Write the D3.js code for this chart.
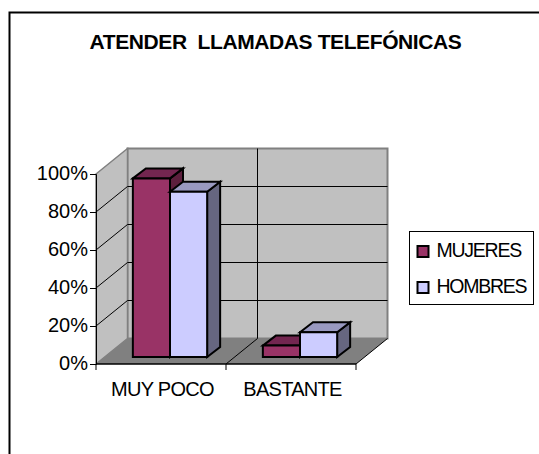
<!DOCTYPE html>
<html>
<head>
<meta charset="utf-8">
<script src="https://cdn.jsdelivr.net/npm/d3@7"></script>
<style>
body { margin: 0; background: #fff; overflow: hidden; }
text { font-family: "Liberation Sans", Arial, sans-serif; fill: #000; }
</style>
</head>
<body>
<div id="chart"></div>
<script>
var categories = ["MUY POCO", "BASTANTE"];
var seriesNames = ["MUJERES", "HOMBRES"];
var mujeres = [94, 6];
var hombres = [87, 13];
var yTicks = [0, 20, 40, 60, 80, 100];

var colors = ["#993366", "#CCCCFF"];
var topColors = ["#732650", "#9999C0"];
var sideColors = ["#5C1F3D", "#666680"];

var width = 539, height = 454;
var front = {left: 96, right: 356, top: 174, bottom: 364};
var wallDx = 31.5, wallDy = -25.5; //offset of back wall from front plane
var barDepthDx = 13, barDepthDy = -10;
var barInsetDx = 9, barInsetDy = -7;

var svg = d3.select("#chart").append("svg")
	.attr("width", width)
	.attr("height", height)
	.style("display", "block");

//chart frame, runs off the right and bottom of the picture
svg.append("rect")
	.attr("x", 9.5).attr("y", 12.5)
	.attr("width", 560).attr("height", 480)
	.attr("fill", "#fff").attr("stroke", "#000").attr("stroke-width", 2);

var x = d3.scaleBand()
	.domain(categories)
	.range([front.left, front.right]);

var y = d3.scaleLinear()
	.domain([0, 100])
	.range([front.bottom, front.top]);

var inner = d3.scaleBand()
	.domain(seriesNames)
	.range([0, x.bandwidth()])
	.paddingOuter(0.75)
	.paddingInner(0);

function poly(points, fill, stroke, sw){
	svg.append("polygon")
		.attr("points", points.map(function(p){ return p.join(","); }).join(" "))
		.attr("fill", fill)
		.attr("stroke", stroke)
		.attr("stroke-width", sw)
		.attr("stroke-linejoin", "miter");
}

function line(x1, y1, x2, y2, stroke, sw){
	svg.append("line")
		.attr("x1", x1).attr("y1", y1).attr("x2", x2).attr("y2", y2)
		.attr("stroke", stroke).attr("stroke-width", sw);
}

var L = front.left, R = front.right, T = front.top, B = front.bottom;

//back wall
poly([[L + wallDx, T + wallDy], [R + wallDx, T + wallDy], [R + wallDx, B + wallDy], [L + wallDx, B + wallDy]], "#C0C0C0", "#808080", 2);
//left wall
poly([[L, T], [L + wallDx, T + wallDy], [L + wallDx, B + wallDy], [L, B]], "#C0C0C0", "#808080", 1.5);
//floor
poly([[L, B], [L + wallDx, B + wallDy], [R + wallDx, B + wallDy], [R, B]], "#808080", "none", 0);

//gridlines
yTicks.slice(1, -1).forEach(function(d){
	line(L, y(d), L + wallDx, y(d) + wallDy, "#000", 1);
	line(L + wallDx, y(d) + wallDy, R + wallDx, y(d) + wallDy, "#000", 1);
});
//category divider
var midX = x(categories[1]);
line(midX, B, midX + wallDx, B + wallDy, "#000", 1);
line(midX + wallDx, B + wallDy, midX + wallDx, T + wallDy, "#000", 1);
line(R, B, R + wallDx, B + wallDy, "#000", 1);

//bars
var base = y(0) + barInsetDy;
var allSeries = [mujeres, hombres];
categories.forEach(function(cat, ci){
	allSeries.forEach(function(values, si){
		var x0 = x(cat) + inner(seriesNames[si]) + barInsetDx;
		var x1 = x0 + inner.bandwidth();
		var top = y(values[ci]) + barInsetDy;
		poly([[x1, top], [x1 + barDepthDx, top + barDepthDy], [x1 + barDepthDx, base + barDepthDy], [x1, base]], sideColors[si], "#000", 2);
		poly([[x0, top], [x0 + barDepthDx, top + barDepthDy], [x1 + barDepthDx, top + barDepthDy], [x1, top]], topColors[si], "#000", 2);
		poly([[x0, top], [x1, top], [x1, base], [x0, base]], colors[si], "#000", 2);
	});
});

//axes
var yAxis = d3.axisLeft(y)
	.tickValues(yTicks)
	.tickSize(6)
	.tickPadding(2)
	.tickFormat(function(d){ return d + "%"; });

var gy = svg.append("g")
	.attr("transform", "translate(" + L + ",0)")
	.call(yAxis);
gy.selectAll("text").attr("dy", "0.27em").style("font-size", "20px").style("letter-spacing", "0px").attr("fill", "#000");
gy.selectAll(".domain").attr("stroke", "#000");

var gx = svg.append("g")
	.attr("transform", "translate(0," + B + ")");
gx.append("line").attr("x1", L).attr("x2", R).attr("stroke", "#000").attr("stroke-width", 1.5);
[L, midX, R].forEach(function(t){
	gx.append("line").attr("x1", t).attr("x2", t).attr("y1", 0).attr("y2", 6).attr("stroke", "#000");
});

categories.forEach(function(cat){
	gx.append("text")
		.attr("x", x(cat) + x.bandwidth() / 2 + 1.5)
		.attr("y", 31.5)
		.attr("text-anchor", "middle")
		.style("font-size", "20px")
		.style("letter-spacing", "-0.7px")
		.text(cat);
});

//title
svg.append("text")
	.attr("x", 275.5).attr("y", 49)
	.attr("text-anchor", "middle")
	.style("font-size", "21px")
	.style("font-weight", "bold")
	.style("letter-spacing", "-0.4px")
	.style("white-space", "pre")
	.text("ATENDER  LLAMADAS TELEFÓNICAS");

//legend
var legend = svg.append("g").attr("transform", "translate(409.5,231.5)");
legend.append("rect").attr("width", 124).attr("height", 73).attr("fill", "#fff").attr("stroke", "#000");
seriesNames.forEach(function(name, i){
	var yy = 14.5 + i * 36;
	legend.append("rect")
		.attr("x", 8).attr("y", yy)
		.attr("width", 11).attr("height", 11)
		.attr("fill", colors[i]).attr("stroke", "#000").attr("stroke-width", 2);
	legend.append("text")
		.attr("x", 27).attr("y", yy + 10.5)
		.style("font-size", "19.5px")
		.style("letter-spacing", "-1.25px")
		.text(name);
});
</script>
</body>
</html>
